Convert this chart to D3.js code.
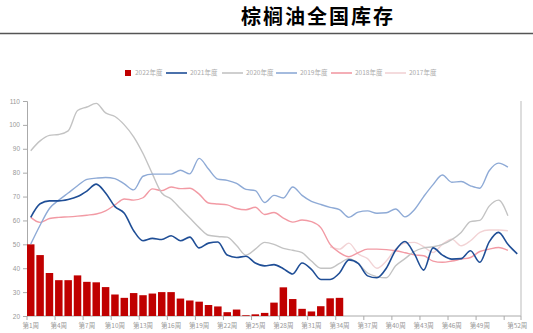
<!DOCTYPE html>
<html>
<head>
<meta charset="utf-8">
<script src="https://cdn.jsdelivr.net/npm/d3@7"></script>
<style>
    body { margin: 0; background: #fff; }
    svg { display: block; font-family: "Noto Sans CJK SC", "Noto Sans", sans-serif; }
</style>
</head>
<body>
<script>
var weeks = d3.range(1, 54).map(function(d) { return '第' + d + '周'; });
var tick_weeks = [1, 4, 7, 10, 13, 16, 19, 22, 25, 28, 31, 34, 37, 40, 43, 46, 49];
var last_label = '第52周';
var y_ticks = [20, 30, 40, 50, 60, 70, 80, 90, 100, 110];

var series_names = ['2022年度', '2021年度', '2020年度', '2019年度', '2018年度', '2017年度'];

var stock_2022 = [50, 45.5, 38, 35, 35, 37, 34.3, 34.1, 32.1, 29, 27.6, 29.6, 28.7, 29.4,
    30, 30, 27.3, 26.5, 26, 24.6, 24, 21.6, 22.7, 20.3, 20.7, 21.3, 25.6, 32, 27.1, 23,
    21.9, 24.1, 27.4, 27.6];

var stock_2021 = [61.3, 67, 68.2, 68.2, 68.8, 70, 72.3, 75.2, 71.5, 65.8, 63, 55.7, 51.5,
    52.5, 52, 53.6, 51.5, 53, 48.5, 50.5, 51, 45.5, 44.5, 45, 42.2, 41, 41.5, 39.8, 37.6,
    42.2, 39.5, 35.3, 35.3, 38, 43.5, 42, 36.8, 36, 40, 47.5, 51.2, 46, 39.2, 48.5, 45.5,
    43.8, 44, 47.3, 42.5, 51, 55, 50, 46];

var stock_2020 = [89.2, 93.3, 95.6, 96, 97.5, 106, 107.5, 109, 105, 103.5, 100, 95, 88,
    79.5, 71.5, 69, 65, 61, 57, 53.8, 53.3, 53, 49.5, 45.5, 48, 50.8, 50, 48.3, 47.5, 46.5,
    43, 40, 40, 42, 44, 42, 38, 36.5, 36, 41, 44, 47, 48.5, 49, 50, 52, 55, 59.5, 60, 66,
    68.5, 62];

var stock_2019 = [50.1, 58, 65, 68.5, 71.5, 74.5, 77.2, 77.7, 78, 77.5, 75.3, 72.8, 78.5,
    79.4, 79.4, 79.4, 81, 79.5, 86, 81.5, 77.3, 76.8, 75.5, 73, 72.5, 67.5, 70.5, 69.4, 74,
    70.5, 68, 66.7, 65.5, 64.5, 61.3, 63.5, 64, 63, 63.2, 64.8, 61.5, 64.5, 70, 75, 79, 76,
    76.3, 74.5, 73.5, 80.8, 84, 82.3];

var stock_2018 = [61.3, 59.2, 60.8, 61.3, 61.5, 61.8, 62.2, 62.7, 64, 66.5, 69, 68.5, 69.5,
    73.2, 72.5, 74, 73.3, 73.5, 71, 67.3, 66.9, 66.5, 65, 64.5, 65.5, 62.5, 63.3, 61, 59.3,
    60.2, 59.5, 57, 50, 46.5, 44.8, 46.5, 48, 48, 47.8, 47.3, 46.5, 45.6, 45.2, 43, 42.5,
    43, 43.8, 44.5, 47, 48, 48.7, 47.5];

// 2017 only starts partway through the year
var start_2017 = 33;
var stock_2017 = [49, 48, 50.5, 46, 44, 40, 43, 48, 50.5, 50.8, 49, 46.6, 50, 52.2, 49.4,
    51.5, 55, 56, 56, 55.7];

var colors = ['#c00000', '#1f4e96', '#c3c3c3', '#8eaad6', '#f29aa4', '#f2d3d5'];
var widths = [0, 1.6, 1.4, 1.4, 1.4, 1.4];

var width = 533, height = 333;
var margin = {top: 101, right: 12, bottom: 17, left: 27};

var svg = d3.select('body').append('svg')
    .attr('width', width)
    .attr('height', height);

svg.append('text')
    .attr('x', 318)
    .attr('y', 24)
    .attr('text-anchor', 'middle')
    .style('font-size', '20px')
    .style('font-weight', 'bold')
    .style('letter-spacing', '2px')
    .attr('fill', '#000')
    .text('棕榈油全国库存');

svg.append('line')
    .attr('x1', 0).attr('x2', width)
    .attr('y1', 33.5).attr('y2', 33.5)
    .attr('stroke', '#555')
    .attr('stroke-width', 1.5);

var x = d3.scaleBand()
    .domain(weeks)
    .range([margin.left, width - margin.right])
    .paddingInner(0.2)
    .paddingOuter(0)
    .align(0);
var y = d3.scaleLinear()
    .domain([20, 110])
    .range([height - margin.bottom, margin.top]);

var plot = svg.append('g');

// y axis
var axis_y = plot.append('g')
    .attr('transform', 'translate(' + margin.left + ',0)')
    .call(d3.axisLeft(y).tickValues(y_ticks).tickSize(4).tickPadding(3));
axis_y.selectAll('text')
    .style('font-size', '6.5px')
    .attr('fill', '#999');
axis_y.select('.domain').attr('stroke', '#aaa');
axis_y.selectAll('.tick line').attr('stroke', '#aaa');

// x axis: ticks at band edges, labels centred on bands
var x_ticks = tick_weeks.map(function(w) { return weeks[w - 1]; }).concat([weeks[51]]);
var axis_x = plot.append('g')
    .attr('class', 'axis_x');
axis_x.append('line')
    .attr('x1', margin.left).attr('x2', width - margin.right)
    .attr('y1', y(20)).attr('y2', y(20));
axis_x.selectAll('line.tick')
    .data(x_ticks.map(x).concat([width - margin.right]))
    .enter()
    .append('line')
    .attr('class', 'tick')
    .attr('x1', function(d) { return d; })
    .attr('x2', function(d) { return d; })
    .attr('y1', y(20))
    .attr('y2', y(20) + 4);
axis_x.selectAll('line')
    .attr('stroke', '#aaa')
    .attr('stroke-width', 1);
axis_x.selectAll('text')
    .data(tick_weeks.map(function(w) { return weeks[w - 1]; }))
    .enter()
    .append('text')
    .attr('x', function(d) { return x(d) + x.bandwidth() / 2; })
    .attr('y', y(20) + 12)
    .attr('text-anchor', 'middle')
    .style('font-size', '6.5px')
    .attr('fill', '#999')
    .text(function(d) { return d; });
axis_x.append('text')
    .attr('x', x(weeks[52]) + x.bandwidth() / 2)
    .attr('y', y(20) + 12)
    .attr('text-anchor', 'middle')
    .style('font-size', '6.5px')
    .attr('fill', '#999')
    .text(last_label);

// right border
plot.append('line')
    .attr('x1', width - margin.right).attr('x2', width - margin.right)
    .attr('y1', margin.top).attr('y2', y(20))
    .attr('stroke', '#bbb');

// bars
plot.append('g')
    .selectAll('rect')
    .data(stock_2022)
    .enter()
    .append('rect')
    .attr('x', function(d, i) { return x(weeks[i]); })
    .attr('width', x.bandwidth())
    .attr('y', function(d) { return y(d); })
    .attr('height', function(d) { return y(20) - y(d); })
    .attr('fill', colors[0]);

var line = d3.line()
    .x(function(d) { return x(weeks[d[0] - 1]) + x.bandwidth() / 2; })
    .y(function(d) { return y(d[1]); })
    .curve(d3.curveMonotoneX);

function to_points(values, start) {
    return values.map(function(v, i) { return [start + i, v]; });
}

var lines = [
    [5, to_points(stock_2017, start_2017)],
    [4, to_points(stock_2018, 1)],
    [2, to_points(stock_2020, 1)],
    [3, to_points(stock_2019, 1)],
    [1, to_points(stock_2021, 1)]
];
plot.append('g')
    .selectAll('path')
    .data(lines)
    .enter()
    .append('path')
    .attr('d', function(d) { return line(d[1]); })
    .attr('fill', 'none')
    .attr('stroke', function(d) { return colors[d[0]]; })
    .attr('stroke-width', function(d) { return widths[d[0]]; });

// legend
var legend_x = [125, 166, 222, 276, 331, 385];
var legend = svg.append('g')
    .selectAll('g')
    .data(series_names)
    .enter()
    .append('g')
    .attr('transform', function(d, i) { return 'translate(' + legend_x[i] + ',73)'; });
legend.filter(function(d, i) { return i === 0; })
    .append('rect')
    .attr('x', 0).attr('y', -3)
    .attr('width', 6).attr('height', 6)
    .attr('fill', colors[0]);
legend.filter(function(d, i) { return i > 0; })
    .append('line')
    .attr('x1', 0).attr('x2', 21)
    .attr('stroke', function(d, i) { return colors[i + 1]; })
    .attr('stroke-width', 1.6);
legend.append('text')
    .attr('x', function(d, i) { return i === 0 ? 10 : 24; })
    .attr('y', 2.3)
    .style('font-size', '6.5px')
    .attr('fill', '#aaa')
    .text(function(d) { return d; });
</script>
</body>
</html>
